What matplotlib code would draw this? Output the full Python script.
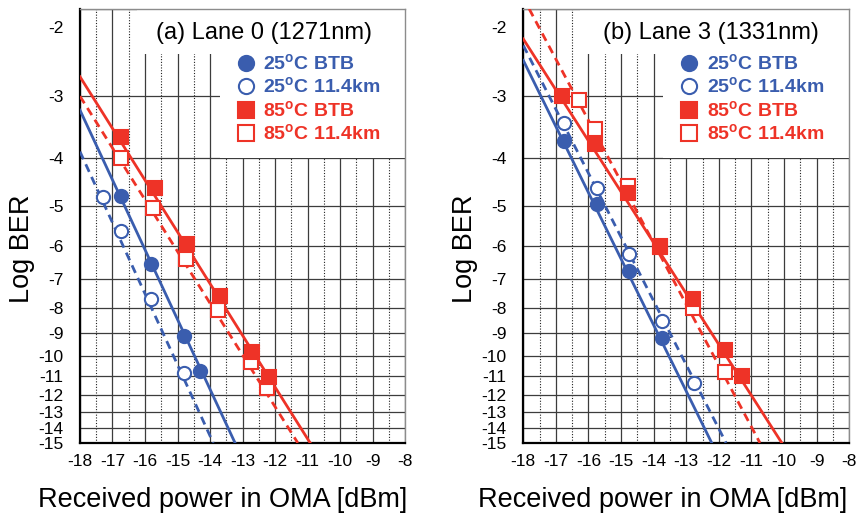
import numpy as np
import matplotlib
matplotlib.use('Agg')
import matplotlib.pyplot as plt
from matplotlib.patches import Rectangle
from matplotlib.ticker import FixedLocator, NullLocator, MultipleLocator
from matplotlib.transforms import ScaledTranslation

plt.rcParams['font.family'] = ['Liberation Sans', 'DejaVu Sans']
plt.rcParams['mathtext.fontset'] = 'custom'
plt.rcParams['mathtext.rm'] = 'Liberation Sans'
plt.rcParams['mathtext.bf'] = 'Liberation Sans:bold'

blue = '#3A5DAE'
red = '#EE3327'

# ---- data: received power [dBm], log10(BER) ----
# (a) Lane 0 (1271nm)
a_25btb_x = [-16.75, -15.8, -14.8, -14.3]
a_25btb_y = [-4.77, -6.55, -9.15, -10.75]
a_25km_x = [-17.3, -16.75, -15.8, -14.8]
a_25km_y = [-4.8, -5.6, -7.7, -10.85]
a_85btb_x = [-16.75, -15.7, -14.7, -13.7, -12.7, -12.2]
a_85btb_y = [-3.63, -4.6, -5.95, -7.6, -9.85, -11.05]
a_85km_x = [-16.75, -15.75, -14.75, -13.75, -12.75, -12.25]
a_85km_y = [-4.0, -5.05, -6.4, -8.1, -10.3, -11.65]

# fitted lines (end points)
a_25btb_fit_x = [-18, -13.23]
a_25btb_fit_y = [-3.2, -15]
a_25km_fit_x = [-18, -13.9]
a_25km_fit_y = [-3.88, -15]
a_85btb_fit_x = [-18, -10.92]
a_85btb_fit_y = [-2.74, -15]
a_85km_fit_x = [-18, -11.3]
a_85km_fit_y = [-3.0, -15]

# (b) Lane 3 (1331nm)
b_25btb_x = [-16.75, -15.75, -14.75, -13.75]
b_25btb_y = [-3.7, -4.95, -6.75, -9.2]
b_25km_x = [-16.75, -15.75, -14.75, -13.75, -12.75]
b_25km_y = [-3.4, -4.6, -6.25, -8.5, -11.35]
b_85btb_x = [-16.8, -15.8, -14.8, -13.8, -12.8, -11.8, -11.3]
b_85btb_y = [-3.0, -3.75, -4.7, -6.0, -7.7, -9.75, -11.0]
b_85km_x = [-16.3, -15.8, -14.8, -13.8, -12.8, -11.8]
b_85km_y = [-3.05, -3.5, -4.55, -6.05, -8.0, -10.8]

b_25btb_fit_x = [-18, -12.22]
b_25btb_fit_y = [-2.54, -15]
b_25km_fit_x = [-18, -11.78]
b_25km_fit_y = [-2.37, -15]
b_85btb_fit_x = [-18, -10.07]
b_85btb_fit_y = [-2.30, -15]
b_85km_fit_x = [-17.82, -10.74]
b_85km_fit_y = [-2.0, -15]

labels = [r'25$^{\mathbf{o}}$C BTB', r'25$^{\mathbf{o}}$C 11.4km',
          r'85$^{\mathbf{o}}$C BTB', r'85$^{\mathbf{o}}$C 11.4km']
yticks = list(range(2, 16))
xticks = list(range(-18, -7))

panels = [
    dict(rect=[0.093, 0.140, 0.378, 0.8427], title='(a) Lane 0 (1271nm)', title_x=0.566,
         xlabel_x=0.438,
         pts=[(a_25btb_x, a_25btb_y), (a_25km_x, a_25km_y), (a_85btb_x, a_85btb_y), (a_85km_x, a_85km_y)],
         fits=[(a_25btb_fit_x, a_25btb_fit_y), (a_25km_fit_x, a_25km_fit_y),
               (a_85btb_fit_x, a_85btb_fit_y), (a_85km_fit_x, a_85km_fit_y)]),
    dict(rect=[0.6085, 0.140, 0.379, 0.8427], title='(b) Lane 3 (1331nm)', title_x=0.576,
         xlabel_x=0.4285,
         pts=[(b_25btb_x, b_25btb_y), (b_25km_x, b_25km_y), (b_85btb_x, b_85btb_y), (b_85km_x, b_85km_y)],
         fits=[(b_25btb_fit_x, b_25btb_fit_y), (b_25km_fit_x, b_25km_fit_y),
               (b_85btb_fit_x, b_85btb_fit_y), (b_85km_fit_x, b_85km_fit_y)]),
]

colors = [blue, blue, red, red]
markers = ['o', 'o', 's', 's']
filled = [True, False, True, False]
styles = ['-', (0, (3, 2)), '-', (0, (3, 2))]
draw_order = [1, 0, 3, 2]  # open markers under filled ones

fig = plt.figure(figsize=(8.6, 5.15), dpi=100)

for p in panels:
    ax = fig.add_axes(p['rect'])
    # waterfall scale: log10(-log10 BER)
    ax.set_yscale('log')
    ax.set_xlim(-18, -8)
    ax.set_ylim(15, 2)

    ax.xaxis.set_major_locator(FixedLocator(xticks))
    ax.xaxis.set_minor_locator(MultipleLocator(0.5))
    ax.set_xticklabels([str(v) for v in xticks])
    ax.yaxis.set_major_locator(FixedLocator(yticks))
    ax.yaxis.set_minor_locator(NullLocator())
    ax.set_yticklabels(['-%d' % v for v in yticks])
    ax.tick_params(axis='both', which='both', length=0, labelsize=12.5)
    ax.tick_params(axis='x', pad=8)
    ax.tick_params(axis='y', pad=12)
    # the "-2" label sits a bit below the top edge
    lab = ax.get_yticklabels()[0]
    lab.set_transform(lab.get_transform() + ScaledTranslation(0, -0.18, fig.dpi_scale_trans))

    ax.set_axisbelow(True)
    ax.grid(True, which='major', color='#3c3c3c', lw=0.9)
    ax.grid(True, which='minor', axis='x', color='#222222', lw=0.8, ls=(0, (1, 1.5)))

    for s in ['left', 'bottom']:
        ax.spines[s].set_linewidth(1.6)
        ax.spines[s].set_color('black')
    for s in ['top', 'right']:
        ax.spines[s].set_linewidth(1.0)
        ax.spines[s].set_color('#8c8c8c')

    # white boxes for title and legend
    ax.add_patch(Rectangle((0.175, 0.897), 0.825, 0.103, transform=ax.transAxes,
                           facecolor='white', edgecolor='none', zorder=1))
    ax.add_patch(Rectangle((0.43, 0.657), 0.57, 0.343, transform=ax.transAxes,
                           facecolor='white', edgecolor='none', zorder=1))

    for i in range(4):
        fx, fy = p['fits'][i]
        ax.plot(fx, -np.array(fy), color=colors[i], lw=2.0, ls=styles[i], zorder=3)

    handles = [None] * 4
    for i in draw_order:
        x, y = p['pts'][i]
        h, = ax.plot(x, -np.array(y), ls='none', marker=markers[i], ms=9.5,
                     mfc=colors[i] if filled[i] else 'white', mec=colors[i], mew=1.5,
                     zorder=4, label=labels[i])
        handles[i] = h

    leg = ax.legend(handles=handles, loc='upper left', bbox_to_anchor=(0.48, 0.898),
                    frameon=False, borderpad=0, borderaxespad=0, handlelength=1.0,
                    handletextpad=0.4, labelspacing=0.14, markerscale=1.15,
                    prop={'weight': 'bold', 'size': 14}, labelcolor=colors)
    leg.set_zorder(5)

    ax.text(p['title_x'], 0.945, p['title'], transform=ax.transAxes, ha='center', va='center',
            fontsize=17, zorder=5)
    ax.text(p['xlabel_x'], -0.131, 'Received power in OMA [dBm]', transform=ax.transAxes,
            ha='center', va='center', fontsize=19.5)
    ax.text(-0.178, 0.448, 'Log BER', transform=ax.transAxes, rotation=90,
            ha='center', va='center', fontsize=19.5)

fig.savefig('out.png', dpi=100)
